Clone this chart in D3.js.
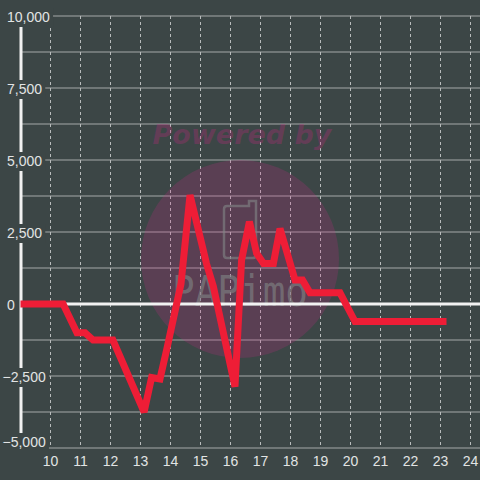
<!DOCTYPE html>
<html><head><meta charset="utf-8">
<script src="https://cdn.jsdelivr.net/npm/d3@7"></script>
<style>html,body{margin:0;padding:0;background:#3c4646;}svg{display:block}</style>
</head><body>
<svg id="c" width="480" height="480"></svg>
<script>
const hours   = [9, 10.42, 10.88, 11.15, 11.42, 12.08, 13.12, 13.37, 13.65, 13.87, 14.35, 14.65, 15.2, 15.43, 16.15, 16.37, 16.63, 16.87, 17.1, 17.43, 17.65, 18.15, 18.4, 18.65, 19.65, 20.15, 23.2];
const balance = [0, 0, -1000, -1000, -1250, -1250, -3750, -2550, -2600, -1600, 700, 3780, 1400, 600, -2870, 1530, 2860, 1760, 1410, 1410, 2620, 830, 830, 390, 390, -610, -610];
const xTicks = [10,11,12,13,14,15,16,17,18,19,20,21,22,23,24];
const yTicks = [-5000,-2500,0,2500,5000,7500,10000];
const yGrid  = [-5000,-3750,-2500,-1250,0,1250,2500,3750,5000,6250,7500,8750,10000];

const svg = d3.select("#c");
const BG = "#3c4646";
const x = d3.scaleLinear().domain([9, 24]).range([20.5, 470.5]);
const y = d3.scaleLinear().domain([-5000, 10000]).range([448, 16]);
const font = "'Liberation Sans', Arial, sans-serif";

svg.append("rect").attr("width",480).attr("height",480).attr("fill",BG);

// horizontal grid
svg.append("g").selectAll("line").data(yGrid).join("line")
  .attr("x1", 20).attr("x2", 480)
  .attr("y1", d => y(d)).attr("y2", d => y(d))
  .attr("stroke", "#a4a8a8").attr("stroke-width", 1);

// vertical dashed grid
svg.append("g").selectAll("line").data(xTicks).join("line")
  .attr("x1", d => x(d)).attr("x2", d => x(d))
  .attr("y1", y(10000)).attr("y2", y(-5000))
  .attr("stroke", "#b8bcbc").attr("stroke-width", 1).attr("stroke-dasharray", "3,3");

// watermark
const wm = svg.append("g");
wm.append("circle").attr("cx", 240).attr("cy", 259).attr("r", 99)
  .attr("fill", "rgba(200,40,130,0.22)");
wm.append("text").attr("x", 242).attr("y", 144).attr("text-anchor", "middle")
  .attr("font-family", "'DejaVu Sans', sans-serif").attr("font-weight", "bold")
  .attr("font-style", "oblique").attr("font-size", 27)
  .attr("fill", "rgba(200,40,130,0.28)").text("Powered by");
wm.append("path")
  .attr("d", "M227,206 L249,206 L249,201 L256,201 L256,255 Q256,258 253,258 L227,258 Q224,258 224,255 L224,209 Q224,206 227,206 Z")
  .attr("fill", "none").attr("stroke", "rgba(130,135,135,0.6)").attr("stroke-width", 2.5);
wm.append("text").attr("x", 172).attr("y", 306)
  .attr("font-family", "'DejaVu Sans Mono', monospace").attr("font-size", 42)
  .attr("textLength", 136).attr("lengthAdjust", "spacingAndGlyphs")
  .attr("fill", "rgba(130,135,135,0.6)")
  .text("PAPimo");

// y axis line
svg.append("line").attr("x1", 21).attr("x2", 21).attr("y1", y(10000)).attr("y2", y(-5000))
  .attr("stroke", "#f2f2f2").attr("stroke-width", 3);

// zero line
svg.append("line").attr("x1", 20).attr("x2", 480).attr("y1", y(0)).attr("y2", y(0))
  .attr("stroke", "#f2f2f2").attr("stroke-width", 3);

// y labels with background
const fmt = d3.format(",");
const yl = svg.append("g");
yTicks.forEach(v => {
  const g = yl.append("g");
  const t = g.append("text")
    .attr("x", v < 0 ? 2.5 : 7)
    .attr("y", Math.min(y(v) + 6, 447))
    .attr("font-family", font).attr("font-size", 14).attr("fill", "#e2e4e4")
    .text(fmt(v));
  const b = t.node().getBBox();
  g.insert("rect", "text").attr("x", b.x - 3).attr("y", b.y - 1)
    .attr("width", b.width + 6).attr("height", b.height + 3).attr("fill", BG);
});

// x labels
svg.append("g").selectAll("text").data(xTicks).join("text")
  .attr("x", d => x(d)).attr("y", 466).attr("text-anchor", "middle")
  .attr("font-family", font).attr("font-size", 14).attr("fill", "#e2e4e4")
  .text(d => d);

// data line
const line = d3.line().x((d, i) => x(hours[i])).y(d => y(d));
svg.append("path").datum(balance).attr("d", line)
  .attr("fill", "none").attr("stroke", "#ee1d36").attr("stroke-width", 7)
  .attr("stroke-linejoin", "miter").attr("stroke-miterlimit", 1.5).attr("stroke-linecap", "butt");
</script>
</body></html>
